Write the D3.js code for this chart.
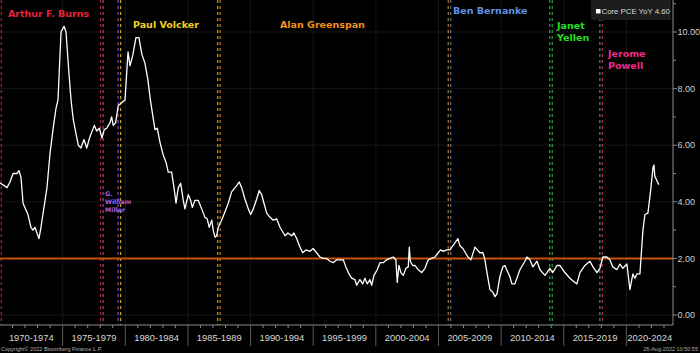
<!DOCTYPE html>
<html>
<head>
<meta charset="utf-8">
<script src="https://cdn.jsdelivr.net/npm/d3@7"></script>
<style>
  body { margin: 0; background: #000; }
  svg { display: block; font-family: "Liberation Sans", Arial, sans-serif; }
</style>
</head>
<body>
<script>
// Core PCE YoY (decimal year, percent)
const dates = [
  1970.00, 1970.24, 1970.56, 1970.80, 1971.04, 1971.36, 1971.52, 1971.68, 1971.84, 1972.08,
  1972.23, 1972.47, 1972.63, 1972.79, 1972.95, 1973.11, 1973.27, 1973.51, 1973.75, 1973.99,
  1974.23, 1974.47, 1974.63, 1974.87, 1975.11, 1975.27, 1975.51, 1975.67, 1975.85, 1976.07,
  1976.25, 1976.46, 1976.70, 1976.92, 1977.18, 1977.53, 1977.72, 1977.93, 1978.14, 1978.32,
  1978.52, 1978.78, 1978.91, 1979.04, 1979.23, 1979.44, 1979.71, 1979.98, 1980.22, 1980.38,
  1980.61, 1980.85, 1981.09, 1981.33, 1981.57, 1981.81, 1981.97, 1982.21, 1982.37, 1982.55,
  1982.77, 1983.03, 1983.25, 1983.43, 1983.70, 1983.89, 1984.05, 1984.23, 1984.42, 1984.63,
  1984.76, 1985.03, 1985.22, 1985.35, 1985.56, 1985.83, 1986.10, 1986.36, 1986.54, 1986.70,
  1986.90, 1987.02, 1987.16, 1987.29, 1987.42, 1987.69, 1987.96, 1988.22, 1988.49, 1988.76,
  1988.94, 1989.10, 1989.29, 1989.55, 1989.82, 1990.01, 1990.22, 1990.49, 1990.69, 1990.89,
  1991.07, 1991.29, 1991.55, 1991.81, 1992.08, 1992.35, 1992.75, 1992.98, 1993.28, 1993.46,
  1993.68, 1993.94, 1994.16, 1994.42, 1994.74, 1995.00, 1995.27, 1995.54, 1995.80, 1996.07,
  1996.34, 1996.60, 1996.87, 1997.13, 1997.40, 1997.61, 1997.80, 1998.07, 1998.33, 1998.47,
  1998.73, 1998.95, 1999.13, 1999.31, 1999.53, 1999.67, 1999.85, 2000.11, 2000.33, 2000.59,
  2000.86, 2001.12, 2001.39, 2001.60, 2001.71, 2001.84, 2002.00, 2002.19, 2002.40, 2002.59,
  2002.67, 2002.75, 2002.94, 2003.12, 2003.38, 2003.66, 2003.92, 2004.18, 2004.45, 2004.72,
  2004.98, 2005.17, 2005.38, 2005.65, 2005.91, 2006.31, 2006.55, 2006.71, 2006.95, 2007.35,
  2007.59, 2007.91, 2008.31, 2008.55, 2008.71, 2008.87, 2009.11, 2009.35, 2009.51, 2009.67,
  2009.90, 2010.14, 2010.30, 2010.70, 2010.86, 2011.10, 2011.50, 2011.90, 2012.06, 2012.30,
  2012.54, 2012.86, 2013.10, 2013.50, 2013.89, 2014.13, 2014.45, 2014.69, 2015.09, 2015.49,
  2015.89, 2016.05, 2016.29, 2016.69, 2017.09, 2017.33, 2017.65, 2017.89, 2018.12, 2018.44,
  2018.68, 2018.92, 2019.24, 2019.48, 2019.72, 2020.04, 2020.28, 2020.52, 2020.68, 2020.84,
  2021.08, 2021.32, 2021.48, 2021.72, 2021.96, 2022.12, 2022.20, 2022.27, 2022.43, 2022.59
];
const coreVals = [
  4.66, 4.6, 4.5, 4.7, 5.0, 5.0, 5.1, 4.85, 3.95, 3.7,
  3.55, 3.1, 3.0, 3.1, 2.9, 2.7, 3.1, 3.8, 4.5, 5.7,
  6.55, 7.3, 7.6, 10.0, 10.2, 10.0, 8.5, 7.6, 6.9, 6.4,
  6.0, 5.9, 6.2, 5.9, 6.3, 6.7, 6.5, 6.6, 6.25, 6.55,
  6.6, 6.8, 7.0, 6.7, 6.8, 7.4, 7.5, 7.6, 9.3, 8.8,
  9.2, 9.8, 9.8, 9.2, 8.9, 8.3, 7.7, 7.0, 6.55, 6.6,
  6.1, 5.65, 5.4, 5.05, 5.05, 4.5, 3.95, 4.5, 4.65, 4.05,
  3.75, 4.25, 4.05, 3.8, 4.05, 4.05, 3.75, 3.45, 3.4, 3.1,
  3.35, 3.0, 2.75, 2.8, 3.1, 3.35, 3.65, 3.95, 4.35, 4.5,
  4.6, 4.7, 4.5, 4.1, 3.75, 3.55, 3.75, 4.1, 4.4, 4.25,
  3.95, 3.6, 3.45, 3.35, 3.4, 3.1, 2.8, 2.9, 2.8, 2.9,
  2.7, 2.4, 2.2, 2.3, 2.25, 2.35, 2.2, 2.05, 2.0, 2.0,
  1.9, 1.85, 1.95, 1.95, 1.95, 1.7, 1.5, 1.3, 1.25, 1.05,
  1.25, 1.1, 1.3, 1.1, 1.25, 1.05, 1.4, 1.6, 1.85, 1.85,
  1.95, 2.0, 2.05, 1.95, 1.15, 1.75, 1.5, 1.4, 1.65, 1.7,
  2.4, 1.9, 1.75, 1.75, 1.6, 1.5, 1.65, 1.95, 2.0, 2.05,
  2.2, 2.3, 2.25, 2.3, 2.3, 2.55, 2.7, 2.45, 2.35, 2.05,
  1.95, 2.4, 2.2, 2.2, 1.95, 1.5, 0.9, 0.8, 0.65, 0.75,
  1.35, 1.7, 1.75, 1.35, 1.1, 1.1, 1.6, 1.9, 2.05, 1.95,
  1.7, 1.9, 1.6, 1.4, 1.65, 1.5, 1.75, 1.75, 1.5, 1.3,
  1.15, 1.1, 1.5, 1.75, 1.9, 1.7, 1.5, 1.65, 2.05, 2.05,
  1.95, 1.7, 1.6, 1.8, 1.65, 1.8, 0.9, 1.45, 1.3, 1.45,
  1.45, 3.0, 3.55, 3.6, 4.5, 5.2, 5.3, 4.9, 4.75, 4.6
];

// Fed chairs: start of term, label lines
const chairNames = ["Arthur F. Burns", "G. William Miller", "Paul Volcker", "Alan Greenspan", "Ben Bernanke", "Janet Yellen", "Jerome Powell"];
const chairStarts = [1970.1, 1978.15, 1979.55, 1987.5, 2005.9, 2014.0, 2018.0];
const chairColors = ["#e8203c", "#a95fe0", "#f2d21e", "#f0921e", "#5e90e0", "#22e022", "#f02a8c"];
const chairLabelLines = [["Arthur F. Burns"], ["G.", "William", "Miller"], ["Paul Volcker"], ["Alan Greenspan"], ["Ben Bernanke"], ["Janet", "Yellen"], ["Jerome", "Powell"]];

const periodStarts = [1970, 1975, 1980, 1985, 1990, 1995, 2000, 2005, 2010, 2015, 2020];
const periodLabels = ["1970-1974", "1975-1979", "1980-1984", "1985-1989", "1990-1994", "1995-1999", "2000-2004", "2005-2009", "2010-2014", "2015-2019", "2020-2024"];
const yTicks = [0, 2, 4, 6, 8, 10];
const target = 2;

const W = 700, H = 353;
const plotRight = 673, plotBottom = 325;

const svg = d3.select("body").append("svg")
  .attr("width", W)
  .attr("height", H);

svg.append("rect").attr("width", W).attr("height", H).attr("fill", "#000");

const x = d3.scaleLinear().domain([1970, 2023.72]).range([0, plotRight]);
const y = d3.scaleLinear().domain([0, 10]).range([315, 32]);

// faint grid
svg.append("g").selectAll("line.vg")
  .data(periodStarts.slice(1))
  .join("line")
  .attr("x1", d => x(d)).attr("x2", d => x(d))
  .attr("y1", 0).attr("y2", plotBottom)
  .attr("stroke", "#161616");

svg.append("g").selectAll("line.hg")
  .data(yTicks)
  .join("line")
  .attr("x1", 0).attr("x2", plotRight)
  .attr("y1", d => y(d)).attr("y2", d => y(d))
  .attr("stroke", "#161616");

// chair change markers: two dashed lines, outgoing colour then incoming colour
const markers = svg.append("g");
chairStarts.forEach((s, i) => {
  const cx = x(s);
  if (i > 0) {
    markers.append("line")
      .attr("x1", cx - 1.5).attr("x2", cx - 1.5)
      .attr("y1", 0).attr("y2", plotBottom)
      .attr("stroke", chairColors[i - 1]).attr("stroke-opacity", 0.8)
      .attr("stroke-width", 1.2).attr("stroke-dasharray", "3,3");
  }
  markers.append("line")
    .attr("x1", i > 0 ? cx + 1 : cx).attr("x2", i > 0 ? cx + 1 : cx)
    .attr("y1", 0).attr("y2", plotBottom)
    .attr("stroke", chairColors[i]).attr("stroke-opacity", 0.8)
    .attr("stroke-width", 1.2).attr("stroke-dasharray", "3,3");
});

// 2% line
svg.append("line")
  .attr("x1", 0).attr("x2", plotRight)
  .attr("y1", y(target)).attr("y2", y(target))
  .attr("stroke", "#c8500c").attr("stroke-width", 2);

// series
const series = dates.map((d, i) => ({ t: d, v: coreVals[i] }));
svg.append("path")
  .datum(series)
  .attr("fill", "none")
  .attr("stroke", "#fff")
  .attr("stroke-width", 1.3)
  .attr("stroke-linejoin", "round")
  .attr("d", d3.line().x(d => x(d.t)).y(d => y(d.v)));

// chair labels
const labelPos = [
  { x: 8, y: 17, size: 9.5, lh: 11 },
  { x: 105, y: 196, size: 6.3, lh: 8 },
  { x: 133, y: 28, size: 9.5, lh: 11 },
  { x: 280, y: 28, size: 9.5, lh: 11 },
  { x: 453, y: 14, size: 9.5, lh: 11 },
  { x: 557, y: 29, size: 9.5, lh: 11.5 },
  { x: 608, y: 57, size: 9.5, lh: 11.5 }
];
chairLabelLines.forEach((lines, i) => {
  const p = labelPos[i];
  const t = svg.append("text")
    .attr("x", p.x).attr("y", p.y)
    .attr("fill", chairColors[i])
    .attr("font-family", "'DejaVu Sans', Verdana, sans-serif")
    .attr("font-weight", "bold")
    .attr("font-size", p.size);
  lines.forEach((ln, j) => {
    t.append("tspan").attr("x", p.x).attr("dy", j === 0 ? 0 : p.lh).text(ln);
  });
});

// right axis
const yAxis = svg.append("g");
yAxis.append("line")
  .attr("x1", plotRight).attr("x2", plotRight)
  .attr("y1", 0).attr("y2", plotBottom)
  .attr("stroke", "#8a8a8a");
yAxis.selectAll("line.minor")
  .data(d3.range(0, 12))
  .join("line")
  .attr("x1", plotRight).attr("x2", d => d % 2 === 0 ? plotRight + 4 : plotRight + 3)
  .attr("y1", d => y(d)).attr("y2", d => y(d))
  .attr("stroke", "#8a8a8a");
yAxis.selectAll("text")
  .data(yTicks)
  .join("text")
  .attr("x", plotRight + 4.5).attr("y", d => y(d) + 3.2)
  .attr("fill", "#d0d0d0")
  .attr("font-size", 9)
  .text(d => d3.format(".2f")(d));

// bottom axis
const xAxis = svg.append("g");
xAxis.append("line")
  .attr("x1", 0).attr("x2", plotRight)
  .attr("y1", plotBottom).attr("y2", plotBottom)
  .attr("stroke", "#8a8a8a");
xAxis.selectAll("line.yr")
  .data(d3.range(1971, 2024))
  .join("line")
  .attr("x1", d => x(d)).attr("x2", d => x(d))
  .attr("y1", plotBottom).attr("y2", d => d % 5 === 0 ? plotBottom + 21 : plotBottom + 3)
  .attr("stroke", d => d % 5 === 0 ? "#5a5a5a" : "#8a8a8a");
xAxis.selectAll("text")
  .data(periodStarts)
  .join("text")
  .attr("x", (d, i) => (x(d) + Math.min(x(d + 5), plotRight)) / 2)
  .attr("y", 341)
  .attr("text-anchor", "middle")
  .attr("fill", "#d8d8d8")
  .attr("font-size", 9.4)
  .text((d, i) => periodLabels[i]);

// legend
const leg = svg.append("g");
leg.append("rect").attr("x", 591).attr("y", 0).attr("width", 80).attr("height", 20).attr("fill", "#1c1c1c");
leg.append("rect").attr("x", 596).attr("y", 9).attr("width", 4.5).attr("height", 4.5).attr("fill", "#fff");
leg.append("text").attr("x", 601.5).attr("y", 14).attr("fill", "#d8d8d8").attr("font-size", 7.8)
  .text("Core PCE YoY 4.60");

// footer
svg.append("text").attr("x", 1).attr("y", 351).attr("fill", "#b0b0b0").attr("font-size", 5.5)
  .text("Copyright\u00a9 2022 Bloomberg Finance L.P.");
svg.append("text").attr("x", 698).attr("y", 351).attr("text-anchor", "end").attr("fill", "#b0b0b0").attr("font-size", 5.5)
  .text("26-Aug-2022 10:50:55");
</script>
</body>
</html>
